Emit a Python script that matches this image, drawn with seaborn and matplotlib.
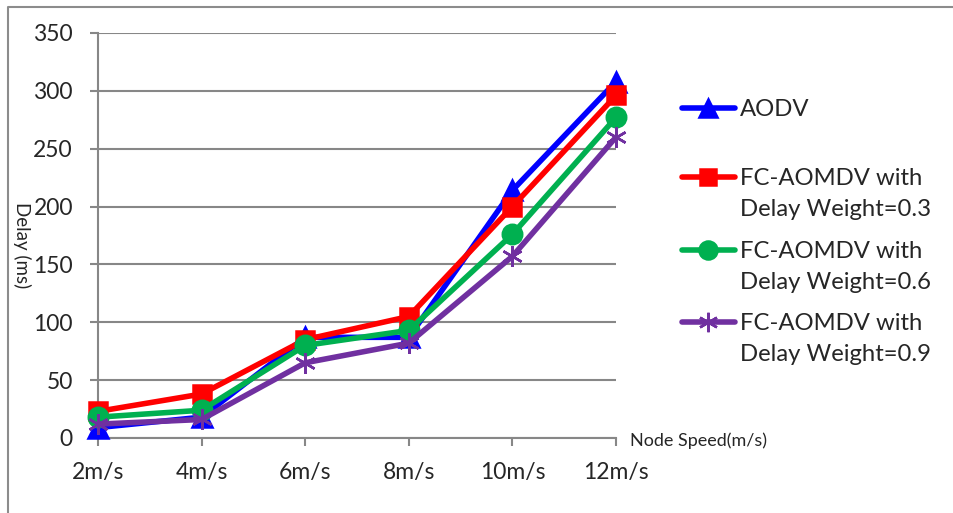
import pandas as pd
import matplotlib.pyplot as plt
import seaborn as sns
from matplotlib.lines import Line2D

# chart data
speeds = ['2m/s', '4m/s', '6m/s', '8m/s', '10m/s', '12m/s']
aodv = [9, 18, 87, 87, 214, 308]
fc_03 = [23, 38, 85, 105, 200, 296]
fc_06 = [18, 24, 80, 93, 176, 277]
fc_09 = [12, 16, 65, 82, 157, 260]

series_names = ['AODV', 'FC-AOMDV with\nDelay Weight=0.3',
                'FC-AOMDV with\nDelay Weight=0.6', 'FC-AOMDV with\nDelay Weight=0.9']
colors = ['#0000FF', '#FF0000', '#00B050', '#7030A0']
markers = ['^', 's', 'o', (6, 2, 0)]
msizes = [14, 13, 14, 15]
y_ticks = [0, 50, 100, 150, 200, 250, 300, 350]

sns.set_style('white')
plt.rcParams['font.family'] = ['Lato', 'DejaVu Sans']

rows = []
for name, vals in zip(series_names, [aodv, fc_03, fc_06, fc_09]):
    for i, v in enumerate(vals):
        rows.append({'pos': i, 'speed': speeds[i], 'delay': v, 'series': name})
df = pd.DataFrame(rows)

fig = plt.figure(figsize=(9.54, 5.13), dpi=100)
ax = fig.add_axes([98 / 954, 1 - 438 / 513, (616 - 98) / 954, (438 - 33) / 513])

grid_col = '#878787'
ax.set_axisbelow(True)
for t in y_ticks:
    ax.axhline(t, color=grid_col, lw=1.5, zorder=0)

for name, col, mk, ms in zip(series_names, colors, markers, msizes):
    sub = df[df['series'] == name]
    sns.lineplot(data=sub, x='pos', y='delay', ax=ax, color=col, lw=4,
                 marker=mk, markersize=ms, markeredgecolor=col,
                 markeredgewidth=1.8, markerfacecolor=col, legend=False,
                 zorder=3, clip_on=False)

ax.set_xlim(0, len(speeds) - 1)
ax.set_ylim(0, 350)
ax.set_xticks(range(len(speeds)))
ax.set_xticklabels(speeds, fontsize=16.5)
ax.set_yticks(y_ticks)
ax.set_yticklabels([str(t) for t in y_ticks], fontsize=16.5)
ax.tick_params(axis='x', direction='out', length=6, width=1.5, color=grid_col, pad=11, bottom=True)
ax.tick_params(axis='y', direction='out', length=6, width=1.5, color=grid_col, pad=12, left=True)
for s in ['top', 'right']:
    ax.spines[s].set_visible(False)
for s in ['left', 'bottom']:
    ax.spines[s].set_color(grid_col)
    ax.spines[s].set_linewidth(1.5)
ax.set_xlabel('')
ax.set_ylabel('')

fig.text(630 / 954, 1 - 441 / 513, 'Node Speed(m/s)', fontsize=13, va='center', ha='left')
fig.text(22 / 954, 1 - 245 / 513, 'Delay (ms)', fontsize=13.5, rotation=-90, va='center', ha='center')

# legend drawn entry by entry so the handle sits on the first text line
legend_rows = [108, 177, 250, 322]
for name, col, mk, ms, yy in zip(series_names, colors, markers, msizes, legend_rows):
    yf = 1 - yy / 513
    fig.add_artist(Line2D([682 / 954, 735 / 954], [yf, yf], transform=fig.transFigure,
                          color=col, lw=4, solid_capstyle='round'))
    fig.add_artist(Line2D([708 / 954], [yf], transform=fig.transFigure, color=col,
                          marker=mk, markersize=ms - 1, markeredgecolor=col,
                          markeredgewidth=1.8, markerfacecolor=col))
    fig.text(740 / 954, yf + 9 / 513, name, fontsize=17.2, va='top', ha='left',
             linespacing=1.6)

# outer frame (top and left edges visible)
fig.add_artist(Line2D([8 / 954, 8 / 954, 1], [0, 1 - 7 / 513, 1 - 7 / 513],
                      transform=fig.transFigure, color='#8c8c8c', lw=1.5))

fig.savefig('out.png', dpi=100)
